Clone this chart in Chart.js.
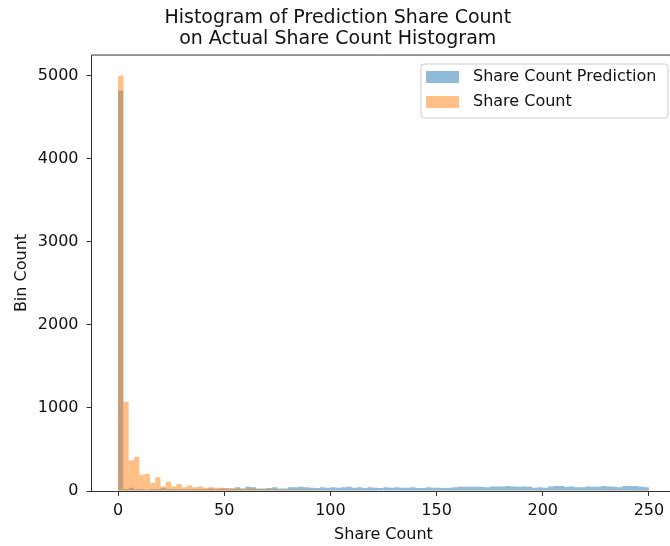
<!DOCTYPE html>
<html>
<head>
<meta charset="utf-8">
<script src="https://cdn.jsdelivr.net/npm/chart.js@4.4.1/dist/chart.umd.min.js"></script>
<style>
  html, body { margin: 0; padding: 0; background: #fff; overflow: hidden; }
  #wrap { width: 670px; height: 546px; overflow: hidden; }
</style>
</head>
<body>
<div id="wrap"><canvas id="histo" width="767" height="546"></canvas></div>
<script>
// bins of width 2.5 from 0 to 250
var binWidth = 2.5;
var binStarts = [];
for (var b = 0; b < 100; b++) binStarts.push(b * binWidth);

var xTicks = [0, 50, 100, 150, 200, 250];
var yTicks = [0, 1000, 2000, 3000, 4000, 5000];

var predictionCounts = [
  4820, 25, 40, 20, 25, 15, 20, 25, 40, 20,
  25, 20, 25, 20, 25, 20, 25, 30, 25, 30,
  30, 30, 45, 30, 50, 45, 30, 30, 35, 45,
  30, 30, 45, 45, 50, 45, 40, 35, 45, 40,
  45, 40, 45, 50, 40, 45, 35, 45, 40, 35,
  45, 40, 45, 40, 40, 45, 35, 35, 45, 40,
  40, 35, 40, 45, 50, 50, 50, 50, 50, 45,
  55, 55, 55, 60, 55, 50, 55, 50, 40, 45,
  40, 55, 60, 60, 50, 55, 45, 45, 55, 50,
  50, 60, 55, 50, 45, 60, 60, 60, 55, 45
];

var shareCounts = [
  5000, 1075, 370, 410, 195, 205, 95, 165, 55, 110,
  55, 85, 45, 65, 45, 55, 40, 45, 40, 40,
  35, 30, 30, 28, 25, 30, 22, 25, 20, 18,
  20, 15, 18, 15, 15, 12, 15, 12, 10, 12,
  10, 10, 8, 10, 8, 8, 6, 8, 6, 5,
  6, 5, 5, 4, 5, 4, 4, 5, 10, 4,
  10, 4, 12, 8, 4, 3, 4, 3, 4, 3,
  10, 8, 3, 4, 3, 2, 3, 2, 3, 12,
  10, 3, 2, 3, 2, 2, 3, 2, 2, 2,
  2, 2, 1, 2, 1, 2, 1, 1, 1, 1
];

function toPoints(counts) {
  var pts = [];
  for (var i = 0; i < counts.length; i++) {
    pts.push({x: binStarts[i] + binWidth / 2, y: counts[i]});
  }
  return pts;
}

var fontFamily = "'DejaVu Sans', sans-serif";
var textColor = '#111';

// top/right spines + matplotlib style legend box
var boxPlugin = {
  id: 'boxPlugin',
  afterDraw: function(chart) {
    var ctx = chart.ctx, a = chart.chartArea;
    ctx.save();
    ctx.strokeStyle = '#000';
    ctx.lineWidth = 0.8;
    ctx.beginPath();
    ctx.moveTo(a.left, a.top);
    ctx.lineTo(a.right, a.top);
    ctx.lineTo(a.right, a.bottom);
    ctx.stroke();

    // legend
    var lx = 421, ly = 64, lw = 247, lh = 54, r = 3;
    ctx.beginPath();
    ctx.moveTo(lx + r, ly);
    ctx.arcTo(lx + lw, ly, lx + lw, ly + lh, r);
    ctx.arcTo(lx + lw, ly + lh, lx, ly + lh, r);
    ctx.arcTo(lx, ly + lh, lx, ly, r);
    ctx.arcTo(lx, ly, lx + lw, ly, r);
    ctx.closePath();
    ctx.fillStyle = 'rgba(255,255,255,0.8)';
    ctx.fill();
    ctx.strokeStyle = '#cccccc';
    ctx.lineWidth = 1;
    ctx.stroke();

    ctx.font = '16px ' + fontFamily;
    ctx.textBaseline = 'middle';
    var ds = chart.data.datasets;
    for (var i = 0; i < ds.length; i++) {
      var y = ly + 7 + i * 25;
      ctx.fillStyle = ds[i].backgroundColor;
      ctx.fillRect(lx + 5, y, 33, 12);
      ctx.fillStyle = textColor;
      ctx.fillText(ds[i].label, lx + 52, y + 6);
    }
    ctx.restore();
  }
};

var chart = new Chart(document.getElementById('histo').getContext('2d'), {
  type: 'bar',
  plugins: [boxPlugin],
  data: {
    datasets: [{
      label: 'Share Count Prediction',
      data: toPoints(predictionCounts),
      backgroundColor: 'rgba(31,119,180,0.5)',
      borderWidth: 0,
      order: 1
    }, {
      label: 'Share Count',
      data: toPoints(shareCounts),
      backgroundColor: 'rgba(255,127,14,0.5)',
      borderWidth: 0,
      order: 0
    }]
  },
  options: {
    responsive: false,
    animation: false,
    layout: {padding: {left: 0, right: 91.5, top: 0, bottom: 0}},
    datasets: {bar: {grouped: false, barPercentage: 1, categoryPercentage: 1, inflateAmount: 0}},
    plugins: {
      legend: {display: false},
      tooltip: {enabled: false},
      title: {
        display: true,
        text: ['Histogram of Prediction Share Count', 'on Actual Share Count Histogram'],
        color: textColor,
        font: {family: fontFamily, size: 19, weight: 'normal', lineHeight: 1.08},
        padding: {top: 8, bottom: 6}
      }
    },
    scales: {
      x: {
        type: 'linear',
        min: -12.5,
        max: 262.5,
        offset: false,
        afterBuildTicks: function(scale) {
          scale.ticks = xTicks.map(function(v) { return {value: v}; });
        },
        afterFit: function(scale) { scale.height = 55; },
        grid: {display: true, drawOnChartArea: false, offset: false, tickLength: 5, tickColor: '#000', tickWidth: 0.8},
        border: {display: true, color: '#000', width: 0.8},
        ticks: {color: textColor, font: {family: fontFamily, size: 16}, padding: 5, maxRotation: 0,
          callback: function(v) { return String(v); }},
        title: {display: true, text: 'Share Count', color: textColor, font: {family: fontFamily, size: 16}, padding: {top: 0, bottom: 2}}
      },
      y: {
        type: 'linear',
        min: 0,
        max: 5250,
        afterBuildTicks: function(scale) {
          scale.ticks = yTicks.map(function(v) { return {value: v}; });
        },
        afterFit: function(scale) { scale.width = 91.5; },
        grid: {display: true, drawOnChartArea: false, tickLength: 5, tickColor: '#000', tickWidth: 0.8},
        border: {display: true, color: '#000', width: 0.8},
        ticks: {color: textColor, font: {family: fontFamily, size: 16}, padding: 8,
          callback: function(v) { return String(v); }},
        title: {display: true, text: 'Bin Count', color: textColor, font: {family: fontFamily, size: 16}, padding: {top: 12, bottom: 0}}
      }
    }
  }
});
</script>
</body>
</html>
